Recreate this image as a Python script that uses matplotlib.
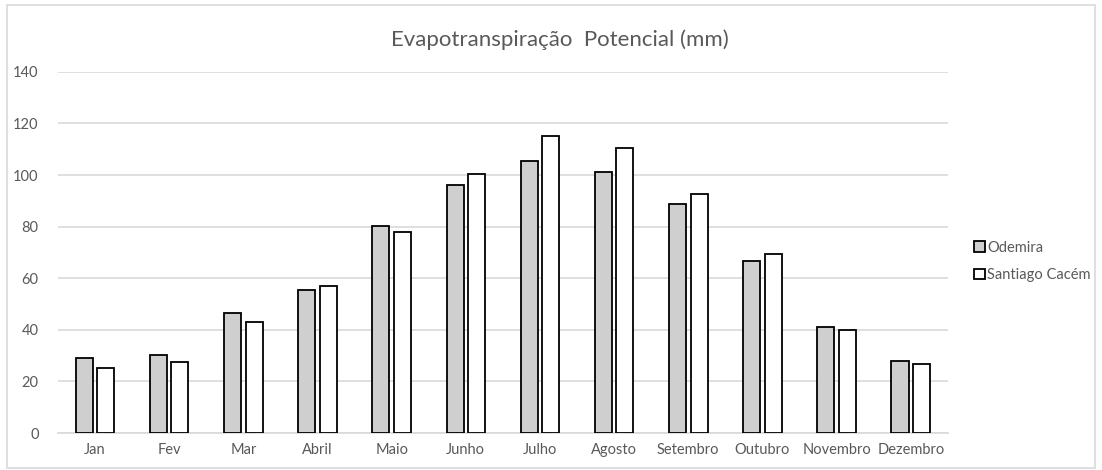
import numpy as np
import matplotlib.pyplot as plt
from matplotlib.patches import Rectangle

plt.rcParams['font.family'] = ['Lato', 'DejaVu Sans']

# data
meses = ['Jan', 'Fev', 'Mar', 'Abril', 'Maio', 'Junho', 'Julho',
         'Agosto', 'Setembro', 'Outubro', 'Novembro', 'Dezembro']
odemira = [29.1, 30.2, 46.5, 55.5, 80.3, 96.2, 105.4, 101.3, 88.8, 66.7, 41.1, 28.0]
santiago = [25.2, 27.5, 43.0, 57.0, 78.0, 100.6, 115.3, 110.6, 92.6, 69.4, 39.8, 26.6]

cinza = '#d0cfcf'
texto = '#595959'

fig = plt.figure(figsize=(11.02, 4.70), dpi=100)
ax = fig.add_axes([0.0526, 0.0787, 0.8075, 0.7683])

x = np.arange(len(meses))
w = 0.23
ax.bar(x - 0.145, odemira, w, color=cinza, edgecolor='black', linewidth=1.3,
       label='Odemira', zorder=3)
ax.bar(x + 0.145, santiago, w, color='white', edgecolor='black', linewidth=1.3,
       label='Santiago Cacém', zorder=3)

ax.set_xlim(-0.5, len(meses) - 0.5)
ax.set_ylim(0, 140)
ax.set_yticks(np.arange(0, 141, 20))
ax.set_xticks(x)
ax.set_xticklabels(meses)
ax.tick_params(length=0, colors=texto, labelsize=10.5)
ax.tick_params(axis='y', pad=14)
ax.tick_params(axis='x', pad=7)
ax.grid(axis='y', color='#d9d9d9', linewidth=1.2, zorder=0)
for s in ['top', 'right', 'left']:
    ax.spines[s].set_visible(False)
ax.spines['bottom'].set_color('#d9d9d9')
ax.spines['bottom'].set_linewidth(1.2)

fig.text(0.508, 0.915, 'Evapotranspiração  Potencial (mm)', ha='center', va='center',
         fontsize=16, color=texto)

ax.legend(loc='center left', bbox_to_anchor=(1.015, 0.475), frameon=False,
          fontsize=10.5, labelcolor=texto, handlelength=0.7, handleheight=0.7,
          handletextpad=0.2, labelspacing=0.95)

# light frame around the chart
fig.patches.append(Rectangle((0.006, 0.004), 0.988, 0.985, transform=fig.transFigure,
                             fill=False, edgecolor='#d9d9d9', linewidth=1.2))

fig.savefig('out.png', dpi=100)
